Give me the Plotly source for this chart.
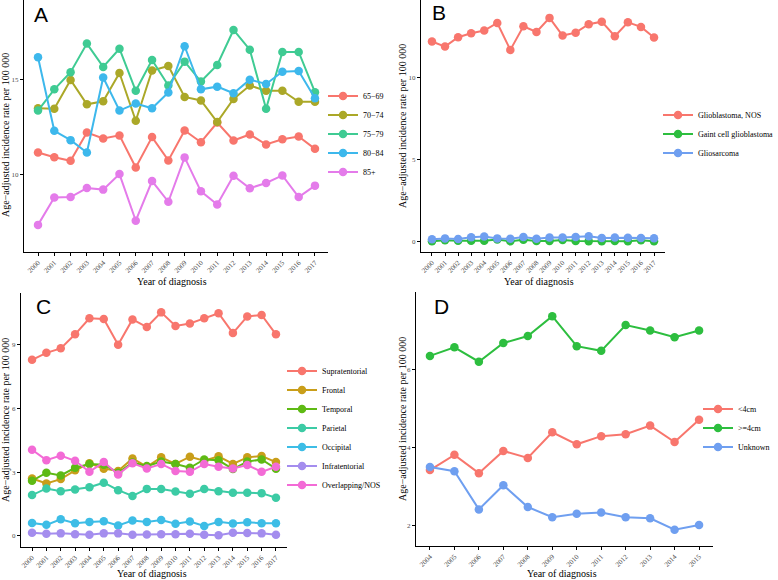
import plotly.graph_objects as go

# Panel A: age groups, 2000-2017
years_a = list(range(2000, 2018))
age_groups = ["65\u221269", "70\u221274", "75\u221279", "80\u221284", "85+"]
rate_65_69 = [11.14, 10.89, 10.70, 12.19, 11.88, 12.04, 10.35, 11.95, 10.72, 12.30,
              11.68, 12.72, 11.77, 12.09, 11.56, 11.84, 11.98, 11.33]
rate_70_74 = [13.47, 13.44, 14.96, 13.68, 13.84, 15.33, 12.81, 15.46, 15.70, 14.07,
              13.88, 12.74, 13.96, 14.67, 14.39, 14.40, 13.81, 13.82]
rate_75_79 = [13.35, 14.47, 15.37, 16.88, 15.65, 16.61, 14.39, 16.02, 14.67, 15.93,
              14.88, 15.75, 17.60, 16.56, 13.44, 16.44, 16.44, 14.32]
rate_80_84 = [16.16, 12.28, 11.79, 11.14, 15.09, 13.35, 13.72, 13.47, 14.30, 16.74,
              14.47, 14.61, 14.26, 14.98, 14.75, 15.40, 15.44, 14.00]
rate_85_up = [7.32, 8.77, 8.79, 9.26, 9.18, 10.00, 7.54, 9.63, 8.54, 10.88,
              9.09, 8.40, 9.91, 9.25, 9.53, 9.93, 8.79, 9.39]

# Panel B: histology
years_b = list(range(2000, 2018))
histologies = ["Glioblastoma, NOS", "Gaint cell glioblastoma", "Gliosarcoma"]
rate_gbm_nos = [12.22, 11.91, 12.48, 12.72, 12.89, 13.35, 11.71, 13.15, 12.80, 13.66,
                12.58, 12.76, 13.27, 13.43, 12.54, 13.39, 13.11, 12.46]
rate_giant = [0.05, 0.10, 0.07, 0.08, 0.07, 0.15, 0.04, 0.13, 0.06, 0.06,
              0.12, 0.06, 0.05, 0.05, 0.06, 0.05, 0.10, 0.05]
rate_gliosarcoma = [0.17, 0.22, 0.18, 0.29, 0.33, 0.22, 0.20, 0.30, 0.20, 0.27,
                    0.27, 0.30, 0.35, 0.24, 0.27, 0.26, 0.25, 0.23]

# Panel C: tumour site
years_c = list(range(2000, 2018))
sites = ["Supratentorial", "Frontal", "Temporal", "Parietal", "Occipital",
         "Infratentorial", "Overlapping/NOS"]
rate_supra = [8.27, 8.60, 8.81, 9.47, 10.22, 10.19, 8.98, 10.17, 9.81, 10.50,
              9.86, 9.98, 10.22, 10.46, 9.53, 10.31, 10.38, 9.47]
rate_frontal = [2.70, 2.46, 2.67, 3.08, 3.41, 3.16, 3.05, 3.64, 3.25, 3.69,
                3.38, 3.72, 3.53, 3.74, 3.38, 3.69, 3.75, 3.47]
rate_temporal = [2.59, 2.97, 2.84, 3.20, 3.38, 3.34, 2.97, 3.45, 3.28, 3.49,
                 3.38, 3.20, 3.59, 3.55, 3.14, 3.49, 3.59, 3.16]
rate_parietal = [1.92, 2.23, 2.10, 2.18, 2.29, 2.50, 2.15, 1.88, 2.21, 2.20,
                 2.09, 1.98, 2.20, 2.10, 2.03, 2.03, 2.01, 1.79]
rate_occipital = [0.61, 0.52, 0.78, 0.60, 0.66, 0.69, 0.49, 0.72, 0.66, 0.75,
                  0.57, 0.68, 0.47, 0.66, 0.58, 0.64, 0.60, 0.60]
rate_infra = [0.15, 0.10, 0.12, 0.08, 0.06, 0.12, 0.12, 0.05, 0.07, 0.08,
              0.08, 0.10, 0.06, 0.03, 0.15, 0.14, 0.12, 0.05]
rate_overlap = [4.05, 3.56, 3.77, 3.53, 3.01, 3.47, 2.89, 3.41, 3.17, 3.38,
                3.05, 3.01, 3.38, 3.25, 3.17, 3.33, 3.01, 3.25]

# Panel D: tumour size, 2004-2015
years_d = list(range(2004, 2016))
sizes = ["<4cm", ">=4cm", "Unknown"]
rate_small = [3.42, 3.81, 3.34, 3.91, 3.73, 4.39, 4.08, 4.29, 4.34, 4.56, 4.14, 4.71]
rate_large = [6.35, 6.57, 6.20, 6.68, 6.86, 7.37, 6.60, 6.48, 7.14, 7.00, 6.83, 7.00]
rate_unknown = [3.50, 3.39, 2.41, 3.03, 2.47, 2.21, 2.30, 2.33, 2.21, 2.18, 1.89, 2.01]

# ggplot hue palettes, a touch lighter like the reference print
hue5 = ["#F8766D", "#ABA828", "#3FCB93", "#3DB8EC", "#E47BEA"]
hue3 = ["#F8766D", "#2DBE3F", "#6F9FF0"]
hue7 = ["#F8766D", "#C99E1A", "#5EBA14", "#3CCBA5", "#3DBDE6", "#A48DEE", "#F36BD6"]

SERIF = "Liberation Serif"

panels = [
    # (years, names, series, colours, axis suffix, legend id)
    (years_a, age_groups, [rate_65_69, rate_70_74, rate_75_79, rate_80_84, rate_85_up], hue5, "", "legend"),
    (years_b, histologies, [rate_gbm_nos, rate_giant, rate_gliosarcoma], hue3, "2", "legend2"),
    (years_c, sites, [rate_supra, rate_frontal, rate_temporal, rate_parietal,
                      rate_occipital, rate_infra, rate_overlap], hue7, "3", "legend3"),
    (years_d, sizes, [rate_small, rate_large, rate_unknown], hue3, "4", "legend4"),
]

fig = go.Figure()
for years, names, series, colours, ax, leg in panels:
    for name, vals, col in zip(names, series, colours):
        fig.add_trace(go.Scatter(
            x=years, y=vals, name=name, mode="lines+markers",
            line=dict(color=col, width=2),
            marker=dict(color=col, size=8.5),
            xaxis="x" + ax, yaxis="y" + ax, legend=leg,
        ))

W, H = 778, 580
def dom_x(a, b):
    return [a / W, b / W]
def dom_y(top, bottom):
    return [1 - bottom / H, 1 - top / H]

axis_style = dict(
    showline=True, linecolor="black", linewidth=1, showgrid=False, zeroline=False,
    ticks="outside", ticklen=3, tickcolor="black", tickwidth=1,
    tickfont=dict(family=SERIF, size=7, color="#4D4D4D"),
)

def xax(domain, rng, anchor, years):
    return dict(axis_style, domain=domain, range=rng, anchor=anchor,
                tickmode="array", tickvals=years, ticktext=[str(y) for y in years],
                tickangle=-45, automargin=False)

def yax(domain, rng, anchor, dtick):
    return dict(axis_style, domain=domain, range=rng, anchor=anchor, dtick=dtick,
                automargin=False)

legend_style = dict(font=dict(family=SERIF, size=8, color="black"),
                    bgcolor="rgba(0,0,0,0)", xanchor="left", yanchor="middle",
                    itemwidth=30, tracegroupgap=0)

def note(text, x, y, size, family=SERIF, angle=0):
    return dict(text=text, x=x / W, y=1 - y / H, xref="paper", yref="paper",
                xanchor="center", yanchor="middle", showarrow=False, textangle=angle,
                font=dict(family=family, size=size, color="black"))

annotations = []
for label, x, y in [("A", 41, 14), ("B", 439, 13), ("C", 43, 306), ("D", 442, 306)]:
    annotations.append(note(label, x, y, 21, family="Liberation Sans"))
for x, y in [(172, 281), (539, 281), (152, 573), (562, 573)]:
    annotations.append(note("Year of diagnosis", x, y, 10))
for x, y in [(6, 135), (402, 126), (5, 420), (403, 419)]:
    annotations.append(note("Age\u2212adjusted incidence rate per 100 000", x, y, 10, angle=-90))

fig.update_layout(
    width=W, height=H, margin=dict(l=0, r=0, t=0, b=0, autoexpand=False),
    paper_bgcolor="white", plot_bgcolor="white",
    xaxis=xax(dom_x(24, 328), [1999.14, 2017.8], "y", years_a),
    yaxis=yax(dom_y(0, 252), [5.89, 19.18], "x", 5),
    xaxis2=xax(dom_x(421, 665), [1999.16, 2017.84], "y2", years_b),
    yaxis2=yax(dom_y(0, 252), [-0.61, 14.75], "x2", 5),
    xaxis3=xax(dom_x(21, 287), [1999.23, 2017.77], "y3", years_c),
    yaxis3=yax(dom_y(293, 547), [-0.52, 11.41], "x3", 3),
    xaxis4=xax(dom_x(416, 713), [2003.43, 2015.57], "y4", years_d),
    yaxis4=yax(dom_y(292, 546), [1.47, 7.99], "x4", 2),
    legend=dict(legend_style, x=323 / W, y=1 - 134 / H),
    legend2=dict(legend_style, x=658 / W, y=1 - 134 / H),
    legend3=dict(legend_style, x=282 / W, y=1 - 428 / H),
    legend4=dict(legend_style, x=698 / W, y=1 - 428 / H),
    annotations=annotations,
    showlegend=True,
)

# the page body has a default 8px margin that would push the figure off-window
fig.write_html("out.html", config={"displayModeBar": False},
               post_script="document.body.style.margin='0';")
